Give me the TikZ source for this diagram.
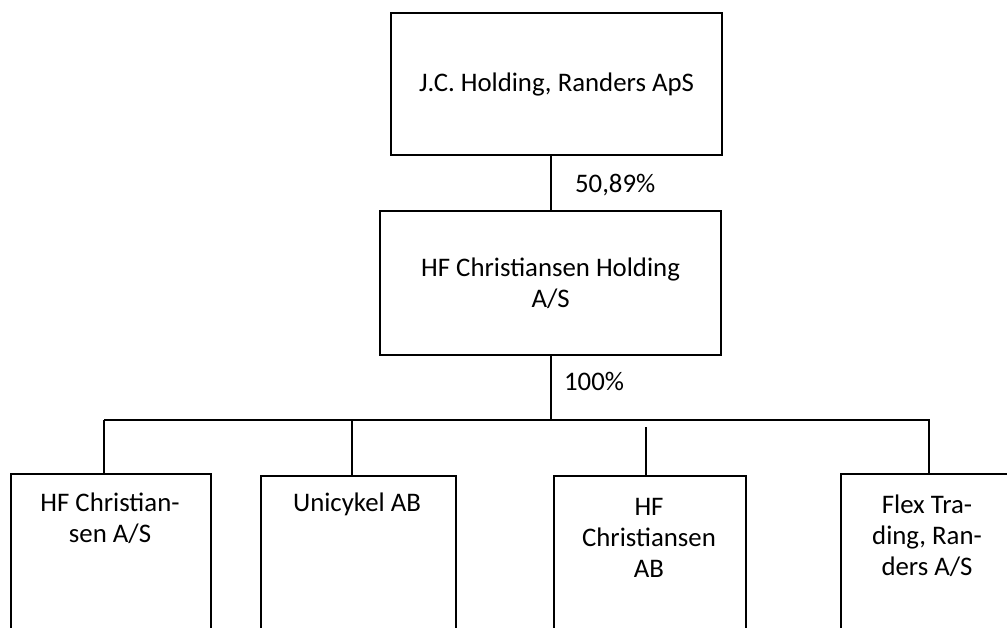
\documentclass[tikz,border=0pt]{standalone}
\usepackage{fontspec}
\setmainfont{Carlito}
\begin{document}
\begin{tikzpicture}[x=0.5pt,y=-0.5pt,line width=1.1pt,
  every node/.style={font=\fontsize{13.4}{15.5}\selectfont},
  box/.style={draw, rectangle, inner sep=0pt, anchor=north west, align=center},
  lbl/.style={align=center, inner sep=0pt, anchor=north},
  pct/.style={inner sep=0pt, anchor=base west}]
\useasboundingbox (0,0) rectangle (1007,627);
\clip (0,0) rectangle (1007,627);
% boxes
\node[box, minimum width=165.5pt, minimum height=71pt] (top) at (390,12) {J.C. Holding, Randers ApS};
\node[box, minimum width=170.5pt, minimum height=72pt] (mid) at (379,210) {HF Christiansen Holding\\A/S};
\node[box, minimum width=100pt, minimum height=150pt] (b1) at (10,473) {};
\node[box, minimum width=97.5pt, minimum height=150pt] (b2) at (260,475) {};
\node[box, minimum width=96pt, minimum height=150pt] (b3) at (553,475) {};
\node[box, minimum width=90pt, minimum height=150pt] (b4) at (840,473) {};
% labels
\node[lbl] (t1) at (110,492) {HF Christian-\\sen A/S};
\node[lbl] (t2) at (357,492) {Unicykel AB};
\node[lbl] (t3) at (649,497) {HF\\Christiansen\\AB};
\node[lbl] (t4) at (927,494) {Flex Tra-\\ding, Ran-\\ders A/S};
\node[pct] (p1) at (574,192) {50,89\%};
\node[pct] (p2) at (563,390) {100\%};
% connectors
\coordinate (busL) at (104,420);
\coordinate (busR) at (930,420);
\coordinate (d1) at (104,420);
\coordinate (d2) at (352,420);
\coordinate (d3) at (646,427);
\coordinate (d4) at (929,420);
\draw (top.south -| mid.north) -- (mid.north);
\draw (mid.south) -- (mid.south |- busL);
\draw (busL) -- (busR);
\draw (d1) -- (d1 |- b1.north);
\draw (d2) -- (d2 |- b2.north);
\draw (d3) -- (d3 |- b3.north);
\draw (d4) -- (d4 |- b4.north);
\end{tikzpicture}
\end{document}
